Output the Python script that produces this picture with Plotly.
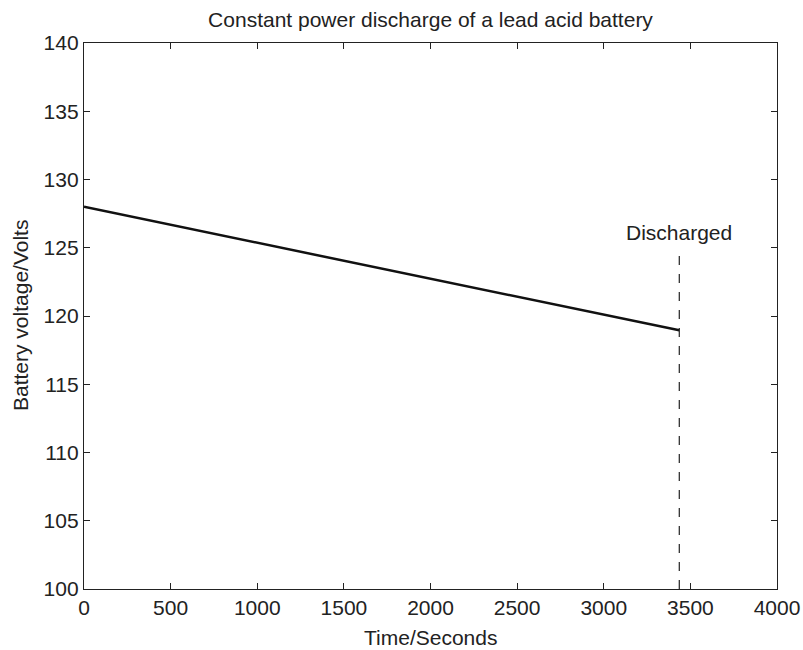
import plotly.graph_objects as go

time_s = [0, 500, 1000, 1500, 2000, 2500, 3000, 3436]
voltage = [128.0, 126.69, 125.38, 124.07, 122.76, 121.45, 120.14, 118.95]
discharge_t = 3436
dash_v = [100, 125]
label_v = 126.1

W, H = 803, 650
ML, MR, MT, MB = 84, 26, 43, 61
PW, PH = W - ML - MR, H - MT - MB

fig = go.Figure()
fig.add_trace(go.Scatter(x=time_s, y=voltage, mode="lines",
                         line=dict(color="#111111", width=2.5), showlegend=False))
fig.add_trace(go.Scatter(x=[discharge_t, discharge_t], y=dash_v, mode="lines",
                         line=dict(color="#222222", width=1.2, dash="dash"), showlegend=False))
fig.add_annotation(x=discharge_t, y=label_v, text="Discharged", showarrow=False,
                   font=dict(size=21, color="#222222"), yanchor="middle", xanchor="center")

# axis titles
fig.add_annotation(xref="paper", yref="paper", x=0.5, y=-(637 - 589) / PH,
                   text="Time/Seconds", showarrow=False, font=dict(size=21, color="#222222"),
                   xanchor="center", yanchor="middle")
fig.add_annotation(xref="paper", yref="paper", x=-(84 - 20) / PW, y=0.5,
                   text="Battery voltage/Volts", showarrow=False, textangle=-90,
                   font=dict(size=21, color="#222222"), xanchor="center", yanchor="middle")

axis_common = dict(showgrid=False, zeroline=False, showline=True, linecolor="#222222",
                   linewidth=1.3, mirror="ticks", ticks="inside", ticklen=6,
                   tickcolor="#222222", tickfont=dict(size=21, color="#222222"),
                   automargin=False, ticklabeloverflow="allow")
fig.update_layout(
    width=W, height=H,
    margin=dict(l=ML, r=MR, t=MT, b=MB),
    plot_bgcolor="white", paper_bgcolor="white",
    font=dict(family="Liberation Sans, Arial, sans-serif", color="#222222"),
    title=dict(text="Constant power discharge of a lead acid battery", x=430.5 / W,
               xref="container", xanchor="center", y=1 - 20 / H, yref="container",
               yanchor="middle", font=dict(size=21)),
    xaxis=dict(range=[0, 4000], tickvals=[0, 500, 1000, 1500, 2000, 2500, 3000, 3500, 4000],
               **axis_common),
    yaxis=dict(range=[100, 140], tickvals=list(range(100, 141, 5)), **axis_common),
    hovermode=False,
)
fig.write_html("out.html", config={"displayModeBar": False},
               post_script="document.body.style.margin='0';document.body.style.overflow='hidden';")
